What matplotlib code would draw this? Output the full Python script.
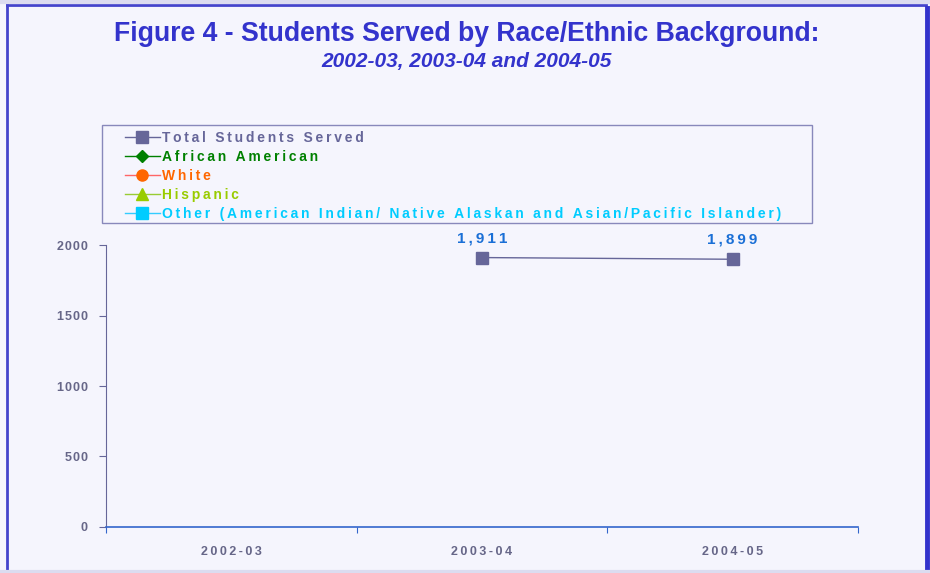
import numpy as np
import matplotlib.pyplot as plt
from matplotlib.lines import Line2D
from matplotlib.patches import Rectangle

plt.rcParams['font.family'] = ['Liberation Sans', 'DejaVu Sans']

years = ["2002-03", "2003-04", "2004-05"]
total = [np.nan, 1911, 1899]
african_american = [np.nan, np.nan, np.nan]
white = [np.nan, np.nan, np.nan]
hispanic = [np.nan, np.nan, np.nan]
other = [np.nan, np.nan, np.nan]
yticks = [0, 500, 1000, 1500, 2000]


def sp(s, gap="\u2009"):
    # wide letter spacing like the original
    return gap.join(s)


bg = "#F5F5FD"
W, H = 930, 573
fig = plt.figure(figsize=(9.3, 5.73), dpi=100, facecolor=bg)
ax = fig.add_axes([0.114, 0.0803, 0.8086, 0.4921])
ax.set_facecolor(bg)

x = np.arange(len(years)) + 0.5
series = [
    ("Total Students Served", total, "#666699", "#666699", "s", 8),
    ("African American", african_american, "#008000", "#008000", "D", 6),
    ("White", white, "#FF6666", "#FF6600", "o", 8),
    ("Hispanic", hispanic, "#99CC33", "#99CC00", "^", 8),
    ("Other (American Indian/ Native Alaskan and Asian/Pacific Islander)", other, "#33CCFF", "#00CCFF", "s", 8),
]
handles = []
for name, vals, lc, mc, mk, ms in series:
    h, = ax.plot(x, vals, color=lc, lw=1, marker=mk, markersize=ms,
                 markerfacecolor=mc, markeredgecolor=mc, label=sp(name))
    handles.append(h)

for xi, v in zip(x, total):
    if not np.isnan(v):
        ax.annotate(sp(f"{v:,.0f}"), (xi, v), xytext=(0, 9), textcoords="offset points",
                    ha="center", va="bottom", color="#1A6FD6", fontsize=11, fontweight="bold")

ax.set_xlim(0, 3)
ax.set_ylim(0, 2000)
ax.set_yticks(yticks)
ax.set_yticklabels([sp(str(t), "\u200a") for t in yticks])
ax.set_xticks([0, 1, 2, 3])
ax.set_xticklabels([])
ax.set_xticks(x, minor=True)
ax.set_xticklabels([sp(y) for y in years], minor=True)
ax.tick_params(axis="x", which="major", direction="out", length=4, color="#3366CC")
ax.tick_params(axis="x", which="minor", length=0, pad=14, labelsize=9, labelcolor="#666688")
ax.tick_params(axis="y", direction="out", length=5, color="#666699", pad=8,
               labelsize=9, labelcolor="#666688")
for lbl in ax.get_xticklabels(minor=True) + ax.get_yticklabels():
    lbl.set_fontweight("bold")

for s in ["top", "right"]:
    ax.spines[s].set_visible(False)
ax.spines["left"].set_color("#666699")
ax.spines["bottom"].set_color("#3366CC")
ax.spines["bottom"].set_linewidth(1.2)

# legend without frame, box drawn separately
leg = fig.legend(handles=handles, loc="upper left", bbox_to_anchor=(125 / W, 1 - 131 / H),
                 frameon=False, fontsize=10, handlelength=2.5, handletextpad=0.15,
                 labelspacing=0.36, borderpad=0, borderaxespad=0)
for txt, s in zip(leg.get_texts(), series):
    txt.set_color(s[3])
    txt.set_fontweight("bold")
fig.add_artist(Rectangle((102 / W, 1 - 223 / H), 710 / W, 98 / H, transform=fig.transFigure,
                         facecolor="none", edgecolor="#8888BB", lw=1.0))

fig.text(0.502, 0.940, "Figure 4 - Students Served by Race/Ethnic Background:",
         ha="center", va="center", fontsize=19.2, fontweight="bold", color="#3333CC")
fig.text(0.502, 0.893, "2002-03, 2003-04 and 2004-05",
         ha="center", va="center", fontsize=15, fontweight="bold", style="italic", color="#3333CC")

# frame around the chart
fig.add_artist(Line2D([7 / W, 7 / W], [0, 1 - 5 / H], transform=fig.transFigure, color="#4444CC", lw=2))
fig.add_artist(Line2D([7 / W, 926 / W], [1 - 5 / H, 1 - 5 / H], transform=fig.transFigure, color="#4444CC", lw=2))
fig.add_artist(Line2D([927 / W, 927 / W], [0, 1 - 8 / H], transform=fig.transFigure, color="#3333CC", lw=3.5))
fig.add_artist(Line2D([0, 1], [1 - 1.5 / H, 1 - 1.5 / H], transform=fig.transFigure, color="#DCDCF0", lw=3))
fig.add_artist(Line2D([0, 1], [1.5 / H, 1.5 / H], transform=fig.transFigure, color="#DCDCF0", lw=3))

fig.savefig("out.png", dpi=100, facecolor=bg)
